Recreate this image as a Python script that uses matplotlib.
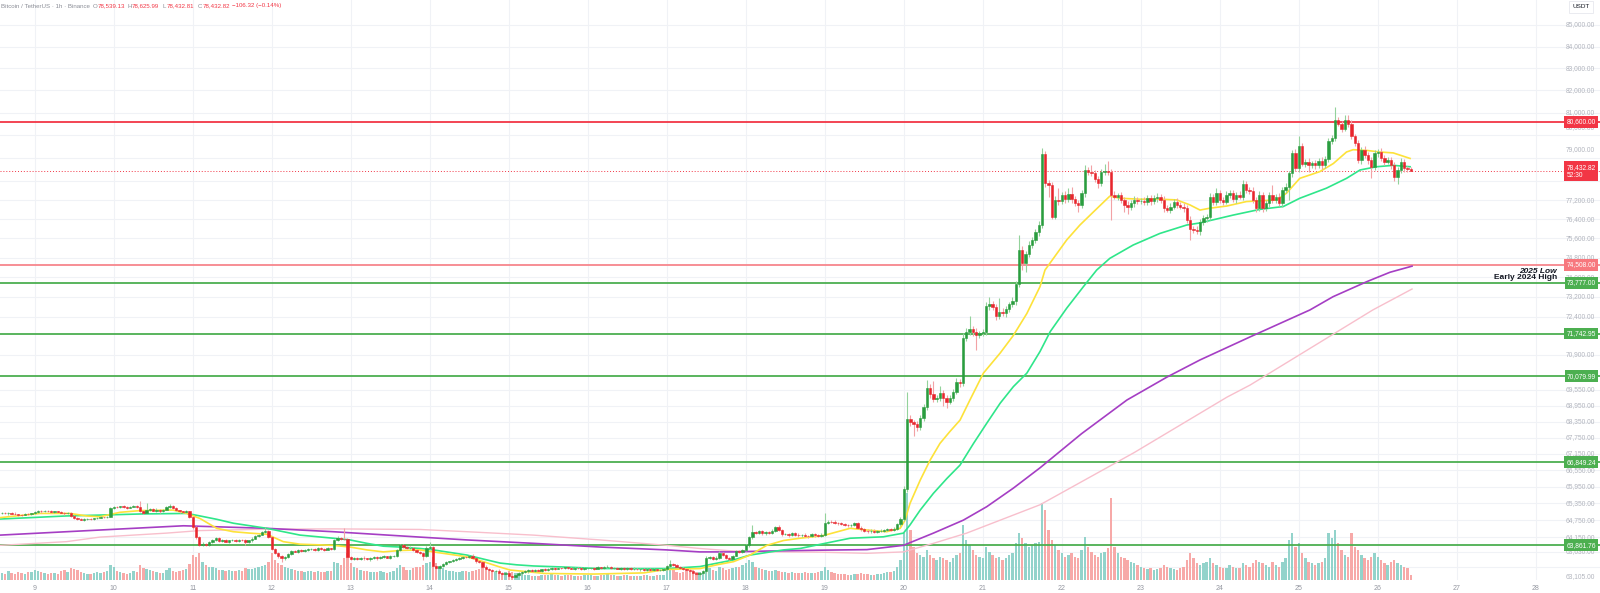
import matplotlib
matplotlib.use("Agg")
import matplotlib.pyplot as plt
import matplotlib.transforms as mtransforms
import numpy as np

plt.rcParams["font.family"] = ["Liberation Sans", "DejaVu Sans"]

# ---------------------------------------------------------------- data
# hours are counted from the 9th, 00:00; first candle is the 8th, 14:00
FIRST_HOUR = -10
FIRST_OPEN = 65000.0
DAYS = list(range(9, 29))

# hourly closes, one row per day
closes = [
    65010, 64990, 65020, 64980, 64960, 64950, 64940, 64970, 64960, 64990,  # 8
    65030, 65080, 65060, 65090, 65070, 65040, 65060, 65050, 65020, 64990, 65000, 64900,
    64820, 64780, 64760, 64790, 64800, 64780, 64810, 64840, 64860, 64850, 64880, 65190,  # 9
    65230, 65210, 65240, 65220, 65200, 65230, 65250, 65220, 65080, 65020, 65100, 65140,
    65090, 65120, 65060, 65130, 65220, 65260, 65180, 65100, 65060, 65040, 65060, 64850,  # 10
    64500, 64150, 63880, 63920, 63880, 63980, 64060, 64110, 64020, 64050, 63990, 64030,
    64050, 64020, 64060, 64040, 63960, 64030, 64100, 64180, 64240, 64330, 64380, 64140,  # 11
    63720, 63600, 63480, 63400, 63450, 63560, 63670, 63640, 63700, 63660, 63690, 63720,
    63740, 63700, 63760, 63730, 63710, 63750, 63720, 64050, 64130, 64090, 64080, 63450,  # 12
    63380, 63420, 63390, 63430, 63400, 63370, 63410, 63440, 63400, 63450, 63470, 63430,
    63480, 63500, 63700, 63860, 63800, 63760, 63780, 63700, 63620, 63580, 63500, 63760,  # 13
    63800, 63150, 63060, 63140, 63220, 63280, 63300, 63350, 63380, 63420, 63460, 63440,
    63500, 63400, 63300, 63270, 63120, 63050, 63000, 62950, 62980, 62900, 62850, 62880,  # 14
    62800, 62760, 62820, 62880, 62920, 62950, 62990, 62960, 63010, 62980, 63020, 63000,
    63040, 63070, 63050, 63080, 63060, 63090, 63070, 63050, 63080, 63060, 63040, 63060,  # 15
    63060, 63080, 63050, 63090, 63070, 63100, 63120, 63060, 63080, 63050, 63070, 63040,
    63060, 63030, 63050, 63020, 63040, 63010, 63030, 63000, 63020, 62990, 63010, 63030,  # 16
    63150, 63220, 63180, 63120, 63080, 63040, 63000, 62950, 62880, 62850, 62900, 62950,
    63410, 63440, 63390, 63430, 63600, 63520, 63420, 63380, 63500, 63650, 63620, 63700,  # 17
    63860, 64140, 64330, 64300, 64350, 64280, 64320, 64300, 64380, 64510, 64400, 64250,
    64260, 64220, 64280, 64240, 64210, 64230, 64200, 64180, 64250, 64210, 64190, 64240,  # 18
    64640, 64700, 64690, 64660, 64640, 64620, 64580, 64560, 64590, 64640, 64480, 64420,
    64380, 64350, 64380, 64340, 64360, 64380, 64400, 64430, 64410, 64450, 64600, 64800,  # 19
    65850, 68440, 68320, 68250, 68140, 68500, 68900, 69620, 69400, 69200, 69250, 69450,
    69250, 69100, 69250, 69480, 69860, 69800, 71550, 71800, 71930, 71800, 71670, 71750,  # 20
    71800, 72840, 72900, 72800, 72420, 72600, 72550, 72700, 72900, 73030, 73720, 75110,
    74560, 74950, 75330, 75540, 75850, 76150, 79180, 77930, 77850, 76500, 77210, 77150,  # 21
    77420, 77250, 77460, 77250, 77070, 76980, 77500, 78490, 78400, 78380, 78100, 77930,
    78420, 78450, 78400, 77420, 77350, 77400, 77210, 77000, 76920, 77070, 77210, 77150,  # 22
    77180, 77130, 77280, 77150, 77280, 77350, 77210, 76860, 76800, 76930, 77140, 77000,
    76930, 76860, 76370, 75970, 75950, 75900, 76290, 76430, 76500, 77350, 77130, 77500,  # 23
    77210, 77140, 77420, 77500, 77250, 77420, 77350, 77870, 77640, 77600, 77210, 76860,
    77420, 76860, 77070, 77420, 77210, 77350, 77070, 77640, 77780, 78340, 79220, 78560,  # 24
    79510, 78770, 78850, 78700, 78780, 78700, 78900, 78700, 78980, 79740, 79880, 80660,
    80520, 80300, 80660, 80520, 79950, 79660, 78920, 79360, 79140, 78920, 78620, 79220,  # 25
    79290, 79000, 78850, 78920, 78700, 78180, 78500, 78850, 78560, 78539.13, 78432.82,  # 26
]

# wick lengths above / below the candle body (USD)
wick_up = [
    30, 40, 20, 30, 50, 20, 30, 40, 20, 30,
    30, 40, 30, 20, 30, 40, 20, 30, 30, 20, 40, 30, 20, 30, 40, 20, 30, 30, 20, 40, 30, 20, 30, 30,
    40, 30, 20, 40, 30, 20, 30, 40, 230, 30, 250, 40, 30, 60, 40, 30, 50, 70, 40, 30, 20, 30, 40, 30,
    40, 30, 30, 40, 30, 30, 40, 50, 30, 40, 30, 30, 40, 30, 30, 40, 30, 30, 40, 30, 30, 40, 110, 30,
    40, 30, 30, 40, 30, 40, 30, 40, 30, 40, 30, 40, 30, 40, 30, 40, 30, 40, 30, 40, 50, 40, 370, 40,
    40, 30, 40, 30, 40, 30, 40, 30, 40, 30, 40, 30, 40, 30, 40, 50, 40, 30, 40, 30, 40, 30, 40, 60,
    190, 40, 30, 40, 30, 40, 30, 40, 30, 40, 30, 40, 30, 40, 30, 40, 30, 40, 30, 40, 30, 40, 30, 40,
    30, 40, 30, 40, 30, 40, 30, 40, 30, 40, 30, 40, 30, 40, 30, 40, 30, 40, 30, 40, 30, 40, 30, 40,
    30, 40, 30, 40, 30, 40, 50, 30, 40, 30, 40, 30, 40, 30, 40, 30, 40, 30, 40, 30, 40, 30, 40, 30,
    40, 130, 30, 40, 30, 40, 30, 40, 30, 40, 30, 40, 60, 40, 30, 40, 50, 40, 30, 40, 30, 50, 40, 30,
    40, 50, 230, 40, 50, 40, 50, 40, 50, 40, 60, 40, 50, 40, 50, 40, 50, 40, 50, 40, 50, 40, 50, 40,
    380, 50, 40, 50, 40, 50, 40, 50, 40, 50, 40, 50, 40, 50, 40, 50, 40, 50, 40, 50, 40, 50, 60, 80,
    120, 1040, 150, 100, 120, 100, 120, 310, 150, 500, 100, 250, 120, 100, 120, 100, 150, 120, 200, 150, 490, 120, 150, 100,
    120, 150, 300, 120, 100, 550, 150, 120, 100, 150, 120, 640, 150, 120, 150, 120, 150, 150, 260, 120, 150, 120, 150, 500,
    120, 150, 240, 290, 120, 150, 120, 210, 150, 300, 120, 150, 120, 320, 450, 120, 150, 120, 150, 120, 150, 120, 150, 120,
    120, 150, 120, 150, 120, 150, 120, 150, 120, 150, 120, 150, 120, 150, 120, 150, 120, 150, 120, 150, 120, 150, 120, 200,
    150, 120, 150, 120, 150, 120, 150, 190, 150, 120, 150, 120, 150, 120, 150, 120, 430, 120, 150, 120, 150, 120, 150, 180,
    440, 150, 120, 150, 120, 150, 120, 150, 120, 150, 120, 610, 150, 120, 240, 220, 150, 120, 150, 120, 150, 120, 150, 120,
    120, 150, 120, 150, 120, 150, 120, 150, 120, 120, 86.86,
]
wick_down = [
    20, 30, 40, 20, 30, 40, 30, 20, 30, 20,
    30, 20, 40, 30, 20, 30, 40, 20, 30, 40, 20, 30, 40, 30, 20, 30, 40, 20, 30, 20, 30, 40, 20, 30,
    30, 40, 30, 20, 40, 30, 20, 30, 40, 60, 30, 40, 30, 40, 50, 30, 20, 30, 40, 30, 40, 30, 20, 40,
    50, 60, 50, 40, 30, 40, 30, 40, 30, 40, 30, 40, 30, 40, 30, 40, 100, 30, 40, 30, 40, 30, 40, 30,
    40, 60, 50, 110, 40, 30, 40, 30, 40, 30, 40, 30, 40, 30, 40, 30, 40, 30, 40, 30, 40, 30, 40, 60,
    40, 30, 40, 30, 40, 30, 40, 30, 40, 30, 40, 30, 40, 30, 40, 30, 40, 30, 40, 30, 40, 30, 150, 40,
    40, 60, 40, 30, 40, 30, 40, 30, 40, 30, 40, 30, 40, 30, 40, 30, 40, 30, 40, 30, 40, 30, 40, 30,
    40, 60, 40, 30, 40, 30, 40, 30, 40, 30, 40, 30, 40, 30, 40, 30, 40, 30, 40, 30, 40, 30, 40, 30,
    40, 30, 40, 30, 40, 30, 40, 30, 40, 30, 40, 30, 40, 30, 40, 30, 40, 30, 40, 30, 40, 30, 40, 30,
    40, 30, 40, 30, 40, 30, 40, 30, 40, 30, 40, 30, 40, 30, 40, 30, 40, 30, 40, 30, 40, 30, 40, 30,
    40, 50, 40, 50, 40, 50, 40, 50, 40, 50, 40, 50, 40, 50, 40, 50, 40, 50, 40, 50, 40, 50, 40, 50,
    50, 40, 50, 40, 50, 40, 50, 40, 50, 40, 50, 40, 50, 40, 50, 40, 50, 40, 50, 40, 50, 40, 50, 60,
    80, 100, 150, 420, 150, 100, 120, 100, 150, 120, 100, 120, 300, 250, 100, 120, 100, 150, 100, 120, 100, 150, 570, 120,
    120, 100, 150, 120, 150, 120, 100, 150, 120, 100, 150, 120, 270, 340, 120, 150, 120, 150, 120, 150, 500, 110, 100, 150,
    120, 150, 120, 150, 120, 280, 120, 150, 120, 150, 120, 230, 120, 150, 120, 1050, 120, 150, 120, 300, 320, 120, 150, 120,
    120, 150, 120, 150, 120, 150, 120, 150, 120, 150, 120, 150, 120, 150, 150, 440, 150, 120, 150, 120, 150, 120, 150, 120,
    120, 150, 120, 150, 120, 150, 120, 150, 120, 150, 120, 150, 120, 160, 120, 150, 120, 150, 120, 150, 120, 580, 150, 120,
    150, 120, 150, 300, 120, 150, 120, 150, 120, 150, 120, 150, 120, 150, 120, 150, 120, 150, 120, 150, 120, 150, 470, 120,
    150, 120, 150, 120, 150, 180, 280, 120, 150, 120, 0.01,
]

# hourly volume (BTC)
volumes = [
    450, 380, 520, 400, 360, 480, 420, 390, 510, 460,
    620, 540, 480, 430, 390, 450, 410, 380, 520, 600, 480, 710, 650, 590, 480, 420, 390, 360, 450, 500, 430, 470, 520, 880,
    760, 540, 480, 420, 380, 450, 520, 480, 900, 720, 640, 580, 520, 480, 440, 400, 620, 700, 560, 480, 520, 600, 680, 980,
    1500, 1400, 1600, 1100, 900, 800, 760, 700, 620, 580, 540, 600, 560, 520, 580, 540, 700, 640, 680, 720, 760, 860, 900, 1100,
    1600, 1200, 1000, 900, 760, 700, 640, 580, 540, 520, 500, 560, 520, 480, 540, 500, 480, 520, 560, 1100, 1000, 900, 1300, 1600,
    1000, 800, 700, 620, 560, 520, 480, 500, 460, 520, 480, 450, 500, 540, 700, 900, 760, 620, 600, 700, 760, 800, 900, 1000,
    1100, 1400, 1000, 800, 700, 600, 560, 520, 480, 500, 540, 520, 500, 560, 600, 640, 700, 620, 560, 520, 480, 440, 420, 480,
    520, 480, 420, 380, 340, 300, 280, 260, 240, 260, 280, 300, 320, 340, 300, 280, 260, 300, 320, 280, 260, 240, 260, 280,
    300, 280, 260, 240, 300, 320, 360, 300, 280, 260, 240, 300, 280, 260, 240, 220, 260, 280, 300, 260, 240, 280, 300, 320,
    700, 800, 600, 500, 420, 480, 520, 560, 600, 500, 460, 420, 900, 700, 600, 560, 800, 700, 600, 640, 700, 760, 800, 900,
    1000, 1200, 1100, 800, 700, 640, 600, 560, 520, 600, 560, 500, 460, 420, 480, 440, 400, 420, 460, 420, 400, 440, 480, 520,
    800, 600, 500, 420, 380, 360, 340, 320, 300, 340, 380, 420, 360, 340, 320, 300, 340, 380, 420, 460, 500, 560, 800, 1200,
    2800, 5200, 3000, 2000, 1600, 1500, 1400, 1800, 1500, 1300, 1200, 1400, 1300, 1200, 1100, 1300, 1500, 1600, 3300, 2400, 2100, 1800, 1500, 1400,
    1300, 2000, 1700, 1500, 1300, 1400, 1200, 1300, 1500, 1600, 2200, 2800, 2500, 2200, 2000, 2100, 2200, 2300, 4600, 4200, 3000, 2400, 2100, 1800,
    1600, 1400, 1500, 1600, 1400, 1300, 1800, 2600, 2000, 1700, 1500, 1400, 1600, 1700, 1900, 4900, 2000, 1600, 1400, 1300, 1200, 1100, 1000, 900,
    800, 700, 650, 700, 600, 650, 700, 900, 800, 700, 650, 600, 700, 800, 1200, 1600, 1300, 1000, 900, 1000, 1100, 1300, 1000, 900,
    800, 700, 750, 900, 800, 700, 750, 1000, 900, 800, 1000, 1200, 1100, 1000, 900, 800, 1100, 900, 800, 1100, 1300, 2400, 2800, 2000,
    2200, 1600, 1300, 1100, 1000, 900, 1000, 1100, 1300, 2800, 2500, 3000, 2200, 1800, 1500, 1400, 2800, 2000, 1800, 1500, 1300, 1200, 1400, 1600,
    1400, 1200, 1000, 900, 1100, 1200, 1000, 900, 800, 700, 300,
]

# moving averages at these hours
fast_ma_hours = [-10.5, 1.6, 10.7, 15.8, 19.8, 25.9, 32, 42, 46.2, 50.2, 55.3, 60.3, 65.4, 70.5, 75.5, 80.6,
                 90.7, 95.8, 100.9, 105.9, 111, 117, 121.1, 131.3, 136.3, 141.4, 144.4, 155, 170, 185, 192,
                 202.1, 207.2, 212.3, 217.3, 222.4, 227.5, 232.5, 238.6, 240.1, 247.7, 252.8, 258.8, 262.9,
                 264.4, 265.9, 269, 272, 275, 278, 281.1, 284.1, 288.2, 293.3, 297.3, 301.4, 305.4, 306.9,
                 313.5, 317.5, 321.6, 326.6, 329.7, 335.7, 341.8, 346.9, 350.9, 354, 357, 362.1, 368.1, 377.3,
                 380.3, 384.3, 390.4, 394.5, 398.5, 400.5, 404.6, 408.6, 412.7, 417.8]
fast_ma = [64840, 64990, 64990, 64900, 64870, 65030, 65090, 65110, 64990, 64810, 64460, 64340, 64290, 64250,
           63990, 63900, 63860, 63800, 63700, 63630, 63680, 63700, 63630, 63460, 63290, 63100, 63000, 62880,
           62860, 62900, 63020, 63050, 63180, 63290, 63520, 63860, 64030, 64110, 64190, 64220, 64460, 64400,
           64340, 64460, 64750, 65350, 66190, 66920, 67540, 67980, 68410, 69170, 70200, 70980, 71670, 72540,
           73620, 74290, 75530, 76150, 76700, 77370, 77280, 77240, 77240, 77210, 77000, 76780, 76860, 76950,
           77140, 77210, 77500, 78130, 78420, 78770, 79270, 79370, 79340, 79270, 79230, 78990]

mid_ma_hours = [-10.5, 9.7, 22.9, 32, 46.2, 50.2, 55.3, 60.4, 70.5, 80.6, 90.7, 95.8, 100.9, 105.9, 111, 117,
                121.1, 126.2, 131.3, 136.3, 141.4, 146.4, 151.5, 161.6, 171.8, 181.9, 192, 202.1, 212.3, 217.3,
                222.4, 227.5, 232.5, 240.1, 247.7, 257.8, 263.9, 265.9, 269, 273, 277.1, 281.1, 285.2, 289.2,
                293.3, 297.3, 301.4, 305.4, 308.5, 313.5, 318.6, 322.6, 326.6, 333.7, 341.8, 349.9, 354, 364.1,
                372.2, 379.3, 384.3, 392.4, 398.5, 402.6, 407.6, 412.7, 417.8]
mid_ma = [64790, 64900, 64940, 64970, 64990, 64900, 64780, 64640, 64460, 64220, 64110, 64050, 63930, 63830,
          63800, 63750, 63700, 63610, 63520, 63380, 63240, 63180, 63140, 63100, 63050, 63050, 63050, 63120,
          63350, 63520, 63610, 63700, 63750, 63930, 64110, 64160, 64290, 64580, 65110, 65710, 66250, 66740,
          67540, 68290, 69050, 69680, 70200, 71040, 71820, 72750, 73620, 74290, 74770, 75320, 75800, 76150,
          76240, 76570, 76810, 76930, 77280, 77710, 78130, 78490, 78630, 78690, 78630]

slow_ma_hours = [-10.5, 9.7, 30, 45.2, 70.5, 90.7, 117, 131.3, 151.5, 171.8, 192, 202, 212.3, 222.4, 238.6,
                 252.8, 263.9, 273, 282.1, 289.2, 297.3, 305.4, 318, 331.8, 344, 354, 369.2, 387.4, 394.4,
                 404.7, 411.7, 418.4]
slow_ma = [64220, 64340, 64460, 64550, 64460, 64340, 64150, 64050, 63930, 63800, 63700, 63630, 63630, 63660,
           63690, 63710, 63860, 64290, 64750, 65230, 65900, 66640, 67900, 69170, 70050, 70710, 71610, 72680,
           73210, 73820, 74200, 74450]

long_ma_hours = [-10.5, 9.7, 19.8, 40, 50.2, 70.5, 90.7, 117, 131.3, 151.5, 171.8, 192, 202, 212.3, 222.4,
                 238.6, 252.8, 263.9, 273, 283.1, 293.3, 305.4, 334, 362.2, 369.2, 406.5, 418.4]
long_ma = [63860, 63990, 64150, 64290, 64380, 64430, 64440, 64420, 64340, 64220, 64050, 63860, 63750, 63660,
           63630, 63620, 63580, 63630, 63930, 64290, 64750, 65300, 67200, 69280, 69740, 72680, 73520]

# horizontal levels
red_levels = [80600.00, 74508.00]
green_levels = [73777.00, 71742.95, 70079.99, 66849.24, 63861.76]

price_ticks = [85000, 84000, 83000, 82000, 81000, 80000, 79000, 77200, 76400, 75600, 74800, 74000, 73200,
               72400, 70900, 69550, 68950, 68350, 67750, 67150, 66550, 65950, 65350, 64750, 64150, 63630, 63105]
grid_prices = price_ticks + [78000]

last_open, last_high, last_low, last_close = 78539.13, 78625.99, 78432.81, 78432.82
last_change, last_change_pct = -106.32, -0.14
countdown = "52:30"

# ---------------------------------------------------------------- candles
c = np.array(closes, dtype=float)
o = np.r_[FIRST_OPEN, c[:-1]]
hi = np.maximum(o, c) + np.array(wick_up)
lo = np.minimum(o, c) - np.array(wick_down)
hours = FIRST_HOUR + np.arange(len(c))
rising = c >= o

W, H = 1600, 593
PLOT_H = 580
fig = plt.figure(figsize=(W / 100, H / 100), dpi=100, facecolor="white")
rect = (0, (H - PLOT_H) / H, 1, PLOT_H / H)
vax = fig.add_axes(rect)
ax = fig.add_axes(rect, sharex=vax)
ax.patch.set_visible(False)

for a in (ax, vax):
    for s in a.spines.values():
        s.set_visible(False)
    a.tick_params(which="both", left=False, bottom=False, right=False, top=False,
                  labelleft=False, labelbottom=False)

ax.set_yscale("log")
ax.set_ylim(62655, 86176)
ax.set_xlim(-10.54, 475.5)
vax.set_ylim(0, 34800)

right = mtransforms.blended_transform_factory(ax.transAxes, ax.transData)
grid_tr = mtransforms.blended_transform_factory(vax.transAxes, ax.transData)

# grid
for p in grid_prices:
    vax.plot([0, 1], [p, p], transform=grid_tr, color="#f0f2f6", lw=0.8, zorder=0)
for d in DAYS:
    vax.axvline(24 * (d - 9), color="#f0f2f6", lw=0.8, zorder=0)

# volume
vax.bar(hours, volumes, width=0.72, color=np.where(rising, "#93d3cb", "#f7a9a8"), lw=0, zorder=1)

# levels
ax.axhline(red_levels[0], color="#f23645", lw=1.3, zorder=2)
ax.axhline(red_levels[1], color="#f7868c", lw=1.3, zorder=2)
for p in green_levels:
    ax.axhline(p, color="#4caf50", lw=1.3, zorder=2)
ax.axhline(last_close, color="#f23645", lw=0.7, ls=(0, (1, 2)), zorder=2)

# moving averages
ax.plot(long_ma_hours, long_ma, color="#f8bfcc", lw=1.0, zorder=3)
ax.plot(slow_ma_hours, slow_ma, color="#a53ec4", lw=1.2, zorder=3)
ax.plot(mid_ma_hours, mid_ma, color="#2fe68a", lw=1.2, zorder=3)
ax.plot(fast_ma_hours, fast_ma, color="#fde23a", lw=1.2, zorder=3)

# candles
ax.vlines(hours, lo, hi, colors=np.where(rising, "#93d29b", "#f2a2a5"), lw=0.8, zorder=4)
body_cols = np.where(rising, "#2a9d3f", "#e8262d")
ax.bar(hours, np.abs(c - o), bottom=np.minimum(o, c), width=0.72, color=body_cols,
       edgecolor=body_cols, lw=0.4, zorder=5)

# price scale labels
nudge_px = {80000: 8, 79000: 9, 63105: -9.5}
for p in price_ticks:
    tr = mtransforms.offset_copy(right, fig=fig, x=0, y=nudge_px.get(p, 0) * 0.72, units="points")
    ax.text(0.997, p, f"{p:,.2f}", transform=tr, ha="right", va="center",
            fontsize=4.8, color="#b2b5be", zorder=6)


def tag(price, text, fc):
    ax.text(0.9975, price, text, transform=right, ha="right", va="center", fontsize=4.8,
            color="white", multialignment="left", zorder=10,
            bbox=dict(boxstyle="square,pad=0.35", fc=fc, ec="none"))


tag(red_levels[0], f"{red_levels[0]:,.2f}", "#f23645")
tag(red_levels[1], f"{red_levels[1]:,.2f}", "#f7787e")
for p in green_levels:
    tag(p, f"{p:,.2f}", "#4caf50")
tag(last_close, f"{last_close:,.2f}\n{countdown}", "#f23645")

# level annotations
ax.text(0.973, red_levels[1], "2025 Low", transform=mtransforms.offset_copy(right, fig=fig, y=-5, units="points"),
        ha="right", va="center", fontsize=6, fontweight="bold", fontstyle="italic", color="#131722", zorder=8)
ax.text(0.973, green_levels[0], "Early 2024 High",
        transform=mtransforms.offset_copy(right, fig=fig, y=3.4, units="points"),
        ha="right", va="center", fontsize=6, fontweight="bold", color="#131722", zorder=8)

# time axis labels
date_tr = mtransforms.blended_transform_factory(ax.transData, ax.transAxes)
for d in DAYS:
    ax.text(24 * (d - 9), -8 / PLOT_H, str(d), transform=date_tr, ha="center", va="center",
            fontsize=5, color="#9598a1", clip_on=False)

# header legend
def px_text(x, s, color, **kw):
    fig.text(x / W, 1 - 6 / H, s, ha="left", va="center", fontsize=4.4, color=color, **kw)


px_text(1, "Bitcoin / TetherUS · 1h · Binance", "#8a8d96")
red = "#f23645"
for x_lab, x_val, lab, val in [(93, 98, "O", last_open), (127, 132, "H", last_high),
                               (162.5, 167, "L", last_low), (197.5, 203, "C", last_close)]:
    px_text(x_lab, lab, "#8a8d96")
    px_text(x_val, f"{val:,.2f}", red)
px_text(231.5, f"\u2212{abs(last_change):,.2f} (\u2212{abs(last_change_pct):.2f}%)", red)

fig.text(1581 / W, 1 - 7 / H, "USDT", ha="center", va="center", fontsize=4.6, color="#131722",
         bbox=dict(boxstyle="square,pad=0.6", fc="white", ec="#e6e8ee", lw=0.6))

fig.savefig("out.png", dpi=100, facecolor="white")
